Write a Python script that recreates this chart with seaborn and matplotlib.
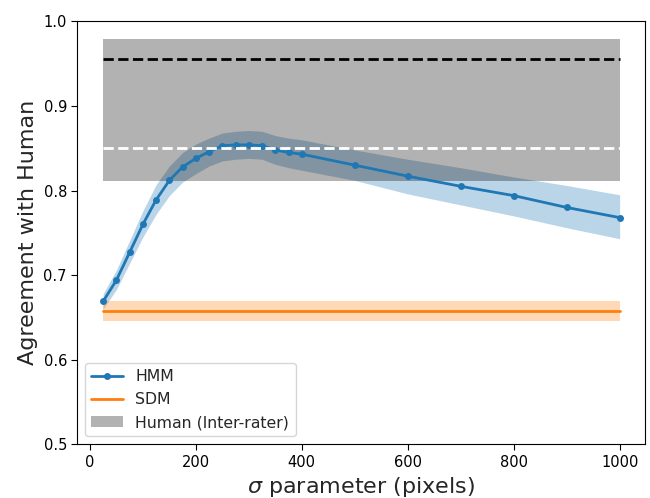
import numpy as np
import pandas as pd
import matplotlib
matplotlib.use("Agg")
import matplotlib.pyplot as plt
import seaborn as sns

# ---- data ----
sigma = [25, 50, 75, 100, 125, 150, 175, 200, 225, 250, 275, 300, 325, 350,
         375, 400, 500, 600, 700, 800, 900, 1000]
hmm_mean = [0.669, 0.694, 0.727, 0.760, 0.789, 0.812, 0.828, 0.838, 0.846,
            0.853, 0.854, 0.854, 0.853, 0.848, 0.845, 0.843, 0.830, 0.817,
            0.805, 0.794, 0.780, 0.768]
hmm_low = [0.660, 0.683, 0.714, 0.745, 0.772, 0.794, 0.810, 0.820, 0.829,
           0.835, 0.837, 0.838, 0.837, 0.831, 0.827, 0.824, 0.812, 0.796,
           0.783, 0.770, 0.756, 0.743]
hmm_high = [0.678, 0.706, 0.741, 0.776, 0.807, 0.829, 0.845, 0.855, 0.862,
            0.868, 0.870, 0.871, 0.870, 0.865, 0.862, 0.860, 0.848, 0.837,
            0.827, 0.816, 0.806, 0.795]

sdm_x = [25, 1000]
sdm_mean = [0.657, 0.657]
sdm_low = [0.646, 0.646]
sdm_high = [0.669, 0.669]

human_x = [25, 1000]
human_low = [0.811, 0.811]
human_high = [0.979, 0.979]
human_max = [0.955, 0.955]
human_mean = [0.850, 0.850]

tick_x = [0, 200, 400, 600, 800, 1000]
tick_y = [0.5, 0.6, 0.7, 0.8, 0.9, 1.0]

# ---- plot ----
sns.set_style("ticks")
plt.rcParams['font.family'] = ['DejaVu Sans']

fig = plt.figure(figsize=(6.5, 4.98), dpi=100)
ax = fig.add_axes([0.119, 0.108, 0.874, 0.849])

blue = '#1f77b4'
orange = '#ff7f0e'

# HMM band
ax.fill_between(sigma, hmm_low, hmm_high, color=blue, alpha=0.3,
                linewidth=0, zorder=1)
# SDM band
ax.fill_between(sdm_x, sdm_low, sdm_high, color=orange, alpha=0.3,
                linewidth=0, zorder=1)

# Human inter-rater band (drawn over the HMM band)
ax.fill_between(human_x, human_low, human_high, color='black', alpha=0.3,
                linewidth=0, zorder=2, label='Human (Inter-rater)')

# HMM line
sns.lineplot(x=sigma, y=hmm_mean, ax=ax, color=blue, marker='o',
             markersize=5, markeredgewidth=0, linewidth=2, zorder=3,
             label='HMM')
# SDM line
sns.lineplot(x=sdm_x, y=sdm_mean, ax=ax, color=orange, linewidth=2,
             zorder=3, label='SDM')

# dashed human lines on top
sns.lineplot(x=human_x, y=human_max, ax=ax, color='black', linestyle='--',
             linewidth=2, zorder=4, legend=False)
sns.lineplot(x=human_x, y=human_mean, ax=ax, color='white', linestyle='--',
             linewidth=2, zorder=4, legend=False)

ax.set_ylim(0.5, 1.0)
ax.set_xlim(-23.75, 1048.75)
ax.set_xticks(tick_x)
ax.set_yticks(tick_y)
ax.set_xticklabels([str(t) for t in tick_x])
ax.set_yticklabels([f"{t:.1f}" for t in tick_y])
ax.tick_params(labelsize=10.5, length=4, width=0.8, colors='black')
for s in ax.spines.values():
    s.set_visible(True)
    s.set_color('black')
    s.set_linewidth(0.8)

ax.set_xlabel(r'$\sigma$ parameter (pixels)', fontsize=16)
ax.set_ylabel('Agreement with Human', fontsize=16)

handles, labels = ax.get_legend_handles_labels()
order = [labels.index('HMM'), labels.index('SDM'), labels.index('Human (Inter-rater)')]
ax.legend([handles[i] for i in order], [labels[i] for i in order],
          loc='lower left', fontsize=11.3, frameon=True)

fig.savefig('out.png', dpi=100)
